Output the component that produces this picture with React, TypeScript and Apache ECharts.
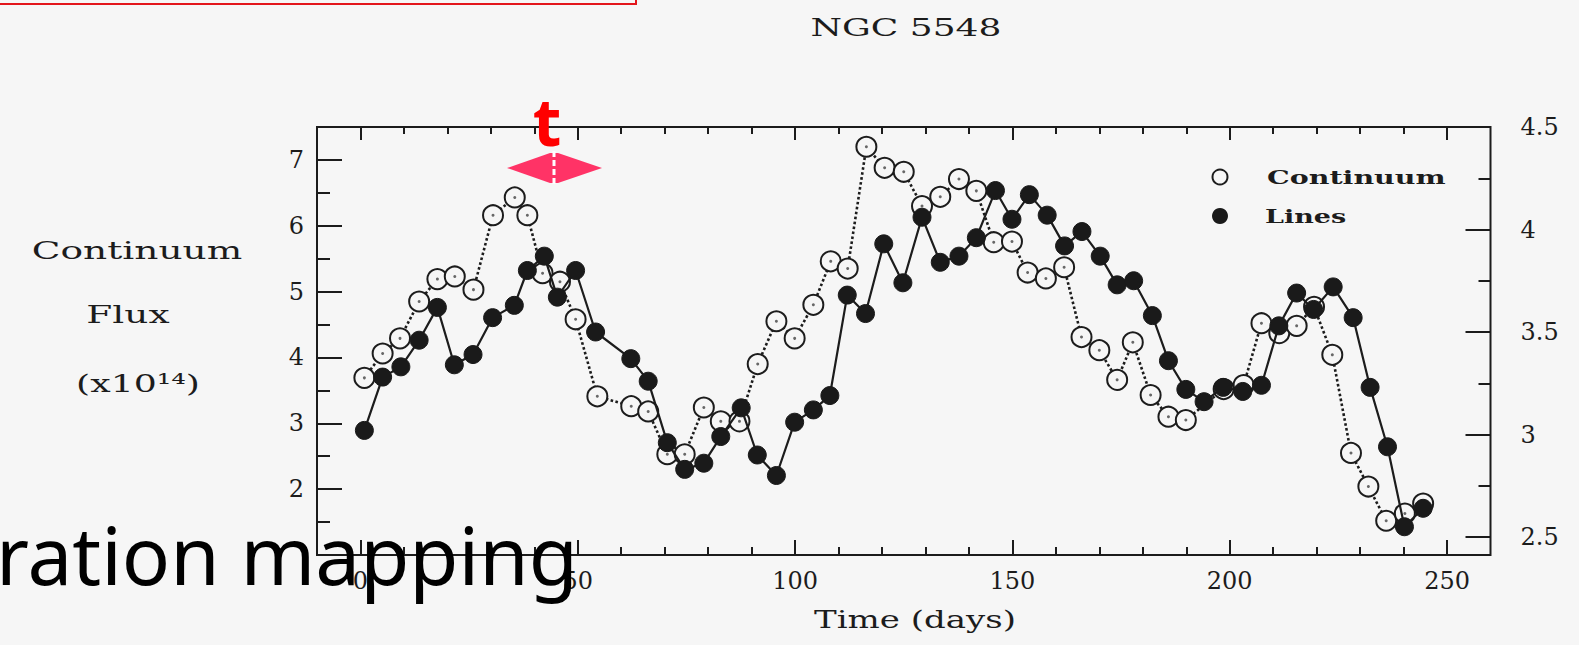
import React, { useEffect, useRef } from "react";
import * as echarts from "echarts";

// NGC 5548 light curves: continuum flux (left axis) and emission-line flux (right axis)
const contDays = [
  0.9, 5.1, 9.1, 13.5, 17.7, 21.7, 26.0, 30.5, 35.5, 38.4, 41.9, 45.9, 49.5, 54.5,
  62.3, 66.2, 70.6, 74.6, 79.0, 82.9, 87.2, 91.4, 95.7, 99.9, 104.2, 108.2, 112.1,
  116.4, 120.6, 125.0, 129.2, 133.4, 137.7, 141.7, 145.7, 149.9, 153.5, 157.7, 161.9,
  165.9, 170.0, 174.1, 177.7, 181.8, 185.9, 189.9, 198.6, 203.2, 207.3, 211.4, 215.4,
  219.4, 223.6, 227.9, 231.9, 236.0, 240.3, 244.5,
];
const contFlux = [
  3.69, 4.06, 4.29, 4.85, 5.19, 5.23, 5.03, 6.16, 6.43, 6.16, 5.28, 5.15, 4.58, 3.41,
  3.26, 3.18, 2.53, 2.53, 3.24, 3.03, 3.03, 3.9, 4.55, 4.29, 4.8, 5.46, 5.35,
  7.2, 6.88, 6.82, 6.3, 6.44, 6.71, 6.53, 5.75, 5.76, 5.29, 5.2, 5.37,
  4.31, 4.11, 3.66, 4.23, 3.43, 3.1, 3.05, 3.52, 3.58, 4.52, 4.37, 4.48,
  4.77, 4.04, 2.55, 2.04, 1.52, 1.63, 1.78,
];
const lineDays = [
  0.9, 5.1, 9.3, 13.5, 17.7, 21.6, 25.9, 30.4, 35.4, 38.4, 42.3, 45.3, 49.5, 54.1,
  62.2, 66.2, 70.6, 74.6, 79.0, 82.9, 87.6, 91.3, 95.7, 99.9, 104.2, 108.0, 112.0,
  116.2, 120.4, 124.8, 129.2, 133.4, 137.7, 141.7, 146.1, 149.9, 153.9, 158.0, 162.0,
  166.0, 170.2, 174.1, 177.9, 182.2, 185.9, 189.9, 194.1, 198.5, 203.0, 207.3, 211.3,
  215.4, 219.3, 223.8, 228.4, 232.3, 236.3, 240.2, 244.5,
];
const lineFlux = [
  3.02, 3.28, 3.33, 3.46, 3.62, 3.34, 3.39, 3.57, 3.63, 3.8, 3.87, 3.67, 3.8, 3.5,
  3.37, 3.26, 2.96, 2.83, 2.86, 2.99, 3.13, 2.9, 2.8, 3.06, 3.12, 3.19, 3.68,
  3.59, 3.93, 3.74, 4.06, 3.84, 3.87, 3.96, 4.19, 4.05, 4.17, 4.07, 3.92,
  3.99, 3.87, 3.73, 3.75, 3.58, 3.36, 3.22, 3.16, 3.23, 3.21, 3.24, 3.53,
  3.69, 3.61, 3.72, 3.57, 3.23, 2.94, 2.55, 2.64,
];
const dayTicks = [0, 50, 100, 150, 200, 250];
const leftTicks = [2, 3, 4, 5, 6, 7];
const rightTicks = [2.5, 3, 3.5, 4, 4.5];

const W = 1579;
const H = 645;
const frameLeft = 317;
const frameRight = 1490.5;
const frameTop = 127;
const frameBottom = 555;
const rightLowPx = 537; // pixel row of the lowest right-axis tick
const dayMin = -10;
const dayMax = 260;
const dayPx = (d: number) =>
  frameLeft + ((d - dayMin) / (dayMax - dayMin)) * (frameRight - frameLeft);

const ink = "#1c1c1c";
const paper = "#f6f6f6";
const serif = "'DejaVu Serif', 'Liberation Serif', serif";
const sans = "'Noto Sans', 'Open Sans', sans-serif";

const tickStyle = { color: ink, width: 2 };
const hiddenLine = { show: false, onZero: false };

function txt(
  text: string,
  x: number,
  y: number,
  size: number,
  scaleX: number,
  align: string = "center",
  extra: Record<string, unknown> = {}
) {
  return {
    type: "text",
    x,
    y,
    scaleX,
    z: 100,
    style: {
      text,
      fontFamily: serif,
      fontSize: size,
      fill: ink,
      align,
      verticalAlign: "middle",
      textAlign: align,
      textVerticalAlign: "middle",
      ...extra,
    },
  };
}

function buildOption() {
  return {
    animation: false,
    backgroundColor: paper,
    grid: [
      {
        left: frameLeft,
        right: W - frameRight,
        top: frameTop,
        bottom: H - frameBottom,
        show: true,
        borderColor: ink,
        borderWidth: 2,
        backgroundColor: "transparent",
      },
      {
        left: dayPx(dayTicks[0]),
        right: W - dayPx(dayTicks[dayTicks.length - 1]),
        top: frameTop,
        bottom: H - frameBottom,
      },
      {
        left: frameLeft,
        right: W - frameRight,
        top: frameTop,
        bottom: H - rightLowPx,
      },
    ],
    xAxis: [
      { gridIndex: 0, type: "value", min: dayMin, max: dayMax, show: false, axisLine: hiddenLine },
      {
        gridIndex: 1,
        type: "value",
        position: "bottom",
        min: dayTicks[0],
        max: dayTicks[dayTicks.length - 1],
        interval: 50,
        axisLine: hiddenLine,
        axisTick: { show: true, inside: true, length: 15, lineStyle: tickStyle },
        minorTick: { show: true, splitNumber: 5, length: 8, lineStyle: tickStyle },
        splitLine: { show: false },
        minorSplitLine: { show: false },
        axisLabel: {
          margin: 14,
          fontFamily: serif,
          fontSize: 24,
          color: ink,
          formatter: (v: number) => (dayTicks.includes(v) ? String(v) : ""),
        },
      },
      {
        gridIndex: 1,
        type: "value",
        position: "top",
        min: dayTicks[0],
        max: dayTicks[dayTicks.length - 1],
        interval: 50,
        axisLine: hiddenLine,
        axisTick: { show: true, inside: true, length: 13, lineStyle: tickStyle },
        minorTick: { show: true, splitNumber: 5, length: 7, lineStyle: tickStyle },
        splitLine: { show: false },
        axisLabel: { show: false },
      },
      { gridIndex: 2, type: "value", min: dayMin, max: dayMax, show: false, axisLine: hiddenLine },
    ],
    yAxis: [
      {
        gridIndex: 0,
        type: "value",
        position: "left",
        min: 1,
        max: 7.5,
        interval: 1,
        axisLine: hiddenLine,
        axisTick: { show: true, inside: true, length: 25, lineStyle: tickStyle },
        minorTick: { show: true, splitNumber: 2, length: 13, lineStyle: tickStyle },
        splitLine: { show: false },
        axisLabel: {
          margin: 13,
          fontFamily: serif,
          fontSize: 24,
          color: ink,
          showMinLabel: false,
          showMaxLabel: false,
          formatter: (v: number) => (leftTicks.includes(v) ? String(v) : ""),
        },
      },
      { gridIndex: 1, type: "value", min: 0, max: 1, show: false, axisLine: hiddenLine },
      {
        gridIndex: 2,
        type: "value",
        position: "right",
        min: rightTicks[0],
        max: rightTicks[rightTicks.length - 1],
        interval: 0.5,
        axisLine: hiddenLine,
        axisTick: { show: true, inside: true, length: 25, lineStyle: tickStyle },
        minorTick: { show: true, splitNumber: 2, length: 12, lineStyle: tickStyle },
        splitLine: { show: false },
        axisLabel: {
          margin: 30,
          fontFamily: serif,
          fontSize: 24,
          color: ink,
          formatter: (v: number) => (rightTicks.includes(v) ? String(v) : ""),
        },
      },
    ],
    series: [
      {
        name: "Continuum",
        type: "line",
        xAxisIndex: 0,
        yAxisIndex: 0,
        data: contDays.map((d, i) => [d, contFlux[i]]),
        symbol: "circle",
        symbolSize: 20,
        showSymbol: true,
        clip: false,
        lineStyle: { color: ink, width: 2.6, type: [2.6, 2.4] },
        itemStyle: { color: paper, borderColor: ink, borderWidth: 2 },
        z: 2,
      },
      {
        name: "Continuum centres",
        type: "scatter",
        xAxisIndex: 0,
        yAxisIndex: 0,
        data: contDays.map((d, i) => [d, contFlux[i]]),
        symbol: "circle",
        symbolSize: 3,
        silent: true,
        itemStyle: { color: "#444" },
        z: 3,
      },
      {
        name: "Lines",
        type: "line",
        xAxisIndex: 3,
        yAxisIndex: 2,
        data: lineDays.map((d, i) => [d, lineFlux[i]]),
        symbol: "circle",
        symbolSize: 18,
        showSymbol: true,
        clip: false,
        lineStyle: { color: ink, width: 2.2 },
        itemStyle: { color: "#1a1a1a", borderColor: "#1a1a1a", borderWidth: 1 },
        z: 4,
      },
    ],
    graphic: [
      txt("NGC 5548", 906, 28, 24, 1.5),
      txt("Continuum", 137, 250, 25, 1.5),
      txt("Flux", 128, 314, 25, 1.5),
      txt("(x10\u00b9\u2074)", 138, 383, 25, 1.45),
      txt("Time (days)", 915, 619, 25, 1.36),
      // legend
      {
        type: "circle",
        z: 100,
        shape: { cx: 1220, cy: 177, r: 7.5 },
        style: { fill: paper, stroke: ink, lineWidth: 2 },
      },
      txt("Continuum", 1267, 177, 19, 1.5, "left", { fontWeight: "bold" }),
      {
        type: "circle",
        z: 100,
        shape: { cx: 1220, cy: 216, r: 8 },
        style: { fill: "#1a1a1a" },
      },
      txt("Lines", 1265, 216, 19, 1.42, "left", { fontWeight: "bold" }),
      // slide annotations
      {
        type: "rect",
        z: 100,
        shape: { x: -10, y: -10, width: 646, height: 14 },
        style: { fill: "none", stroke: "#e3161c", lineWidth: 2 },
      },
      {
        type: "polygon",
        z: 100,
        shape: {
          points: [
            [507, 168],
            [550, 153],
            [558, 153],
            [602, 168],
            [558, 183],
            [550, 183],
          ],
        },
        style: { fill: "#ff3366" },
      },
      {
        type: "line",
        z: 101,
        shape: { x1: 554, y1: 151, x2: 554, y2: 186 },
        style: { stroke: "#ffffff", lineWidth: 3, lineDash: [6, 3] },
      },
      {
        type: "text",
        x: 547,
        y: 120,
        z: 102,
        style: {
          text: "t",
          fontFamily: sans,
          fontWeight: "bold",
          fontSize: 66,
          fill: "#ff0000",
          align: "center",
          verticalAlign: "middle",
          textAlign: "center",
          textVerticalAlign: "middle",
        },
      },
      {
        type: "text",
        x: -4,
        y: 553,
        z: 102,
        style: {
          text: "ration mapping",
          fontFamily: sans,
          fontSize: 80,
          fill: "#000000",
          align: "left",
          verticalAlign: "middle",
          textAlign: "left",
          textVerticalAlign: "middle",
        },
      },
    ],
  };
}

export default function App() {
  const ref = useRef<HTMLDivElement>(null);
  useEffect(() => {
    if (!ref.current) return;
    const chart = echarts.init(ref.current, null, { renderer: "svg" });
    chart.setOption(buildOption() as any);
    return () => chart.dispose();
  }, []);
  return (
    <div
      ref={ref}
      style={{ position: "fixed", left: 0, top: 0, width: W, height: H, background: paper }}
    />
  );
}
